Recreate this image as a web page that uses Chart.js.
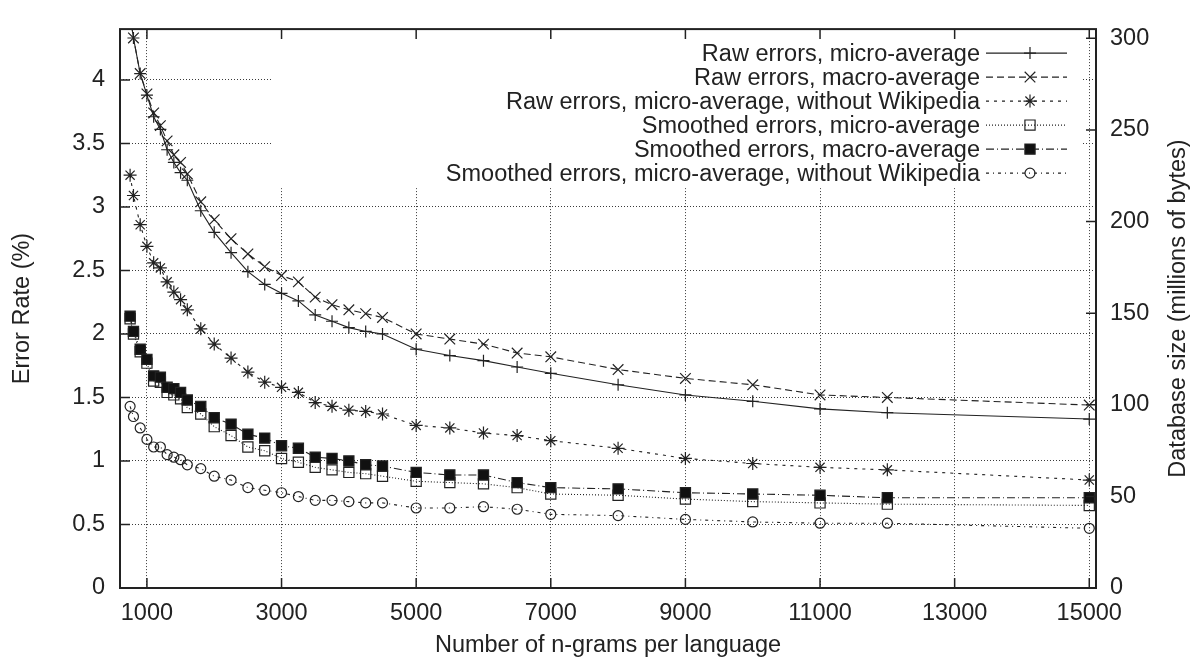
<!DOCTYPE html>
<html>
<head>
<meta charset="utf-8">
<title>Error rate vs n-grams</title>
<script src="https://cdn.jsdelivr.net/npm/chart.js@4/dist/chart.umd.min.js"></script>
<style>
    html, body { margin: 0; padding: 0; background: #fff; }
    #wrap { width: 1199px; height: 662px; }
</style>
</head>
<body>
<div id="wrap"><canvas id="errChart" width="1199" height="662"></canvas></div>
<script>
const FONT = "'Liberation Sans', Arial, Helvetica, sans-serif";
const INK = '#222';
const FONT_SIZE = 23.5;

// x values (number of n-grams per language)
const nGrams = [750, 800, 900, 1000, 1100, 1200, 1300, 1400, 1500, 1600, 1800, 2000, 2250, 2500, 2750,
    3000, 3250, 3500, 3750, 4000, 4250, 4500, 5000, 5500, 6000, 6500, 7000, 8000, 9000, 10000, 11000, 12000, 15000];

// error rates (%)
const rawMicro = [4.50, 4.33, 4.05, 3.88, 3.71, 3.61, 3.45, 3.35, 3.27, 3.21, 2.97, 2.80, 2.64, 2.49, 2.39,
    2.32, 2.26, 2.15, 2.10, 2.05, 2.02, 2.00, 1.88, 1.83, 1.79, 1.74, 1.69, 1.60, 1.52, 1.47, 1.41, 1.38, 1.33];
const rawMacro = [4.52, 4.33, 4.05, 3.89, 3.74, 3.64, 3.52, 3.41, 3.35, 3.26, 3.04, 2.90, 2.75, 2.63, 2.53,
    2.46, 2.41, 2.29, 2.23, 2.19, 2.16, 2.13, 2.00, 1.96, 1.92, 1.85, 1.82, 1.72, 1.65, 1.60, 1.52, 1.50, 1.44];
const rawNoWiki = [3.25, 3.09, 2.86, 2.69, 2.56, 2.52, 2.41, 2.33, 2.27, 2.19, 2.04, 1.92, 1.81, 1.70, 1.62,
    1.58, 1.54, 1.46, 1.43, 1.40, 1.39, 1.37, 1.28, 1.26, 1.22, 1.20, 1.16, 1.10, 1.02, 0.98, 0.95, 0.93, 0.85];
const smoothMicro = [2.12, 2.00, 1.86, 1.77, 1.63, 1.62, 1.54, 1.52, 1.49, 1.42, 1.37, 1.27, 1.20, 1.11, 1.08,
    1.02, 0.99, 0.95, 0.93, 0.91, 0.90, 0.88, 0.84, 0.83, 0.82, 0.79, 0.74, 0.73, 0.70, 0.68, 0.67, 0.66, 0.65];
const smoothMacro = [2.14, 2.02, 1.88, 1.80, 1.67, 1.66, 1.58, 1.57, 1.54, 1.48, 1.43, 1.34, 1.29, 1.21, 1.18,
    1.12, 1.10, 1.03, 1.02, 1.00, 0.97, 0.96, 0.91, 0.89, 0.89, 0.83, 0.79, 0.78, 0.75, 0.74, 0.73, 0.71, 0.71];
const smoothNoWiki = [1.43, 1.35, 1.26, 1.17, 1.11, 1.11, 1.05, 1.03, 1.01, 0.97, 0.94, 0.88, 0.85, 0.79, 0.77,
    0.75, 0.72, 0.69, 0.69, 0.68, 0.67, 0.67, 0.63, 0.63, 0.64, 0.62, 0.58, 0.57, 0.54, 0.52, 0.51, 0.51, 0.47];

const seriesLabels = [
    'Raw errors, micro-average',
    'Raw errors, macro-average',
    'Raw errors, micro-average, without Wikipedia',
    'Smoothed errors, micro-average',
    'Smoothed errors, macro-average',
    'Smoothed errors, micro-average, without Wikipedia'
];

const xTickValues = [1000, 3000, 5000, 7000, 9000, 11000, 13000, 15000];
const yTickValues = [0, 0.5, 1, 1.5, 2, 2.5, 3, 3.5, 4];
const y2TickValues = [0, 50, 100, 150, 200, 250, 300];

const xTitle = 'Number of n-grams per language';
const yTitle = 'Error Rate (%)';
const y2Title = 'Database size (millions of bytes)';

const seriesValues = [rawMicro, rawMacro, rawNoWiki, smoothMicro, smoothMacro, smoothNoWiki];
const seriesStyles = [
    { dash: [], point: 'cross', radius: 6, fill: 'rgba(0,0,0,0)' },
    { dash: [7, 4], point: 'crossRot', radius: 7.5, fill: 'rgba(0,0,0,0)' },
    { dash: [3, 5], point: 'star', radius: 6.5, fill: 'rgba(0,0,0,0)' },
    { dash: [1, 2], point: 'rect', radius: 7.2, fill: 'rgba(0,0,0,0)' },
    { dash: [8, 3, 1, 3], point: 'rect', radius: 7.2, fill: '#111' },
    { dash: [3, 4, 1, 4], point: 'circle', radius: 5, fill: 'rgba(0,0,0,0)' }
];

const datasets = seriesValues.map((vals, i) => ({
    label: seriesLabels[i],
    data: nGrams.map((n, k) => ({ x: n, y: vals[k] })),
    borderColor: INK,
    borderWidth: 1.1,
    borderDash: seriesStyles[i].dash,
    pointStyle: seriesStyles[i].point,
    pointRadius: seriesStyles[i].radius,
    pointBorderColor: INK,
    pointBorderWidth: 1.2,
    pointBackgroundColor: seriesStyles[i].fill,
    tension: 0,
    fill: false,
    clip: 0,
    order: seriesValues.length - 1 - i
}));

// gnuplot-like key: opaque box with right aligned text and sample on the right
const gnuplotKey = {
    id: 'gnuplotKey',
    beforeDatasetsDraw(chart) {
        const ctx = chart.ctx;
        const a = chart.chartArea;
        const textRight = a.right - 116;
        const lineL = a.right - 110, lineR = a.right - 29, markX = a.right - 66;
        ctx.save();
        ctx.fillStyle = '#fff';
        ctx.fillRect(272, a.top + 1, a.right - 14 - 272, 158);
        ctx.font = `${FONT_SIZE}px ${FONT}`;
        ctx.textAlign = 'right';
        ctx.textBaseline = 'middle';
        chart.data.datasets.forEach((ds, i) => {
            const y = a.top + 24 + i * 24;
            ctx.fillStyle = INK;
            ctx.fillText(ds.label, textRight, y + 1);
            ctx.strokeStyle = ds.borderColor;
            ctx.lineWidth = ds.borderWidth;
            ctx.setLineDash(ds.borderDash);
            ctx.beginPath();
            ctx.moveTo(lineL, y);
            ctx.lineTo(lineR, y);
            ctx.stroke();
            ctx.setLineDash([]);
            ctx.fillStyle = ds.pointBackgroundColor;
            ctx.strokeStyle = ds.pointBorderColor;
            ctx.lineWidth = ds.pointBorderWidth;
            Chart.helpers.drawPoint(ctx, {
                pointStyle: ds.pointStyle, radius: ds.pointRadius, rotation: 0, borderWidth: ds.pointBorderWidth
            }, markX, y);
        });
        ctx.restore();
    }
};

// border box, inward ticks and the right axis title
const gnuplotFrame = {
    id: 'gnuplotFrame',
    afterDraw(chart) {
        const { ctx, chartArea: a, scales } = chart;
        ctx.save();
        ctx.strokeStyle = INK;
        ctx.lineWidth = 2;
        ctx.strokeRect(a.left, a.top, a.right - a.left, a.bottom - a.top);

        ctx.lineWidth = 1.5;
        ctx.beginPath();
        scales.x.ticks.forEach(t => {
            const px = scales.x.getPixelForValue(t.value);
            ctx.moveTo(px, a.bottom); ctx.lineTo(px, a.bottom - 10);
            ctx.moveTo(px, a.top); ctx.lineTo(px, a.top + 10);
        });
        scales.y.ticks.forEach(t => {
            const py = scales.y.getPixelForValue(t.value);
            ctx.moveTo(a.left, py); ctx.lineTo(a.left + 10, py);
        });
        scales.y2.ticks.forEach(t => {
            const py = scales.y2.getPixelForValue(t.value);
            ctx.moveTo(a.right, py); ctx.lineTo(a.right - 10, py);
        });
        ctx.stroke();

        ctx.translate(1179, (a.top + a.bottom) / 2);
        ctx.rotate(-Math.PI / 2);
        ctx.font = `${FONT_SIZE}px ${FONT}`;
        ctx.fillStyle = INK;
        ctx.textAlign = 'center';
        ctx.textBaseline = 'middle';
        ctx.fillText(y2Title, 0, 0);
        ctx.restore();
    }
};

const tickFont = { family: FONT, size: FONT_SIZE };
const gridOpts = { color: '#3a3a3a', lineWidth: 1, drawTicks: false };
const borderOpts = { display: false, dash: [1, 2] };

new Chart(document.getElementById('errChart'), {
    type: 'line',
    data: { datasets: datasets },
    options: {
        responsive: false,
        animation: false,
        events: [],
        layout: { padding: { top: 13, left: 0, right: 0, bottom: 0 } },
        plugins: { legend: { display: false }, tooltip: { enabled: false } },
        scales: {
            x: {
                type: 'linear',
                min: 600,
                max: 15100,
                afterBuildTicks: s => { s.ticks = xTickValues.map(v => ({ value: v })); },
                afterFit: s => { s.height = 74; },
                ticks: { font: tickFont, color: INK, padding: 11, autoSkip: false, maxRotation: 0,
                    callback: v => String(v) },
                grid: gridOpts,
                border: borderOpts,
                title: { display: true, text: xTitle, font: tickFont, color: INK, padding: { top: 0, bottom: 2 } }
            },
            y: {
                position: 'left',
                min: 0,
                max: 4.4,
                afterBuildTicks: s => { s.ticks = yTickValues.map(v => ({ value: v })); },
                afterFit: s => { s.width = 120; },
                ticks: { font: tickFont, color: INK, padding: 15, callback: v => String(v) },
                grid: gridOpts,
                border: borderOpts,
                title: { display: true, text: yTitle, font: tickFont, color: INK, padding: { top: 8, bottom: 0 } }
            },
            y2: {
                position: 'right',
                min: 0,
                max: 305,
                afterBuildTicks: s => { s.ticks = y2TickValues.map(v => ({ value: v })); },
                afterFit: s => { s.width = 103; },
                ticks: { font: tickFont, color: INK, padding: 14, callback: v => String(v) },
                grid: { display: false, drawTicks: false },
                border: { display: false }
            }
        }
    },
    plugins: [gnuplotKey, gnuplotFrame]
});
</script>
</body>
</html>
